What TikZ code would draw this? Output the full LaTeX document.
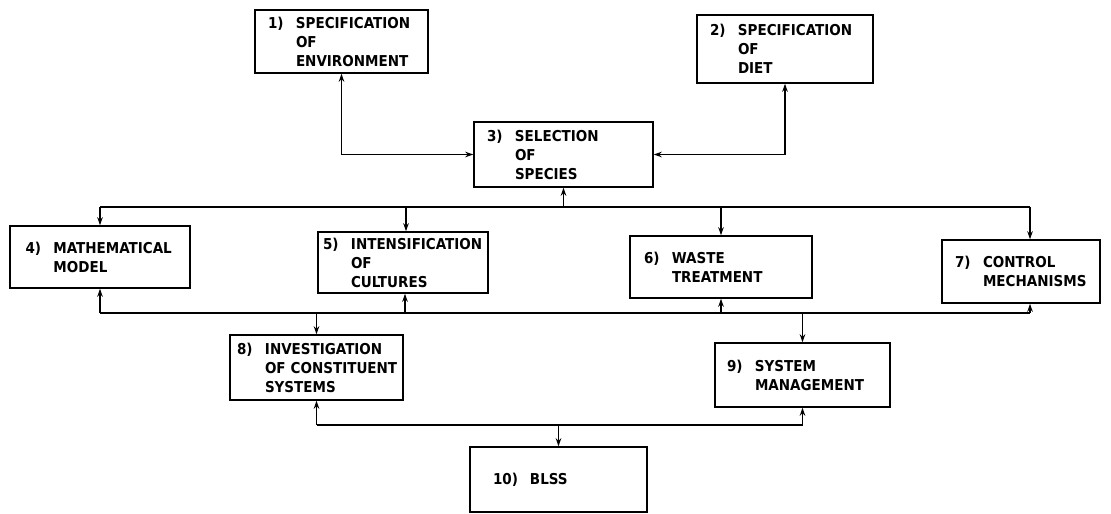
\documentclass[tikz,border=0pt]{standalone}
\usepackage{fontspec}
\setmainfont{DejaVu Sans Condensed}
\usetikzlibrary{arrows.meta}
% number column of a box label, and the indent of the lines below it
\newcommand{\nr}[1]{\makebox[28pt][l]{#1}}
\newcommand{\ind}{\hspace*{28pt}}
\begin{document}
\begin{tikzpicture}[x=1pt, y=-1pt,
  box/.style={draw, line width=1.5pt, align=left, inner ysep=0pt, font=\fontsize{15}{19}\selectfont\bfseries},
  link/.style={line width=1.4pt},
  >={Stealth[length=8pt, width=5.5pt]}]
\useasboundingbox (0,0) rectangle (1111,514);

\node (env) [box, minimum height=63pt, text width=147pt, inner xsep=13pt] at (341.5,41.5) {\nr{1)}SPECIFICATION\\\ind OF\\\ind ENVIRONMENT};
\node (diet) [box, minimum height=68pt, text width=150pt, inner xsep=13pt] at (785,49) {\nr{2)}SPECIFICATION\\\ind OF\\\ind DIET};
\node (sel) [box, minimum height=65pt, text width=153pt, inner xsep=13pt] at (563.5,154.5) {\nr{3)}SELECTION\\\ind OF\\\ind SPECIES};

\node (math) [box, minimum height=62pt, text width=149pt, inner xsep=15.5pt] at (100,257) {\nr{4)}MATHEMATICAL\\\ind MODEL};
\node (cult) [box, minimum height=61pt, text width=160pt, inner xsep=5pt] at (403,262.5) {\nr{5)}INTENSIFICATION\\\ind OF\\\ind CULTURES};
\node (waste) [box, minimum height=62pt, text width=154pt, inner xsep=14pt] at (721,267) {\nr{6)}WASTE\\\ind TREATMENT};
\node (ctrl) [box, minimum height=63pt, text width=132pt, inner xsep=13pt] at (1021,271.5) {\nr{7)}CONTROL\\\ind MECHANISMS};

\node (invest) [box, minimum height=65pt, text width=159pt, inner xsep=7pt] at (316.5,367.5) {\nr{8)}INVESTIGATION\\\ind\mbox{OF CONSTITUENT}\\\ind SYSTEMS};
\node (mgmt) [box, minimum height=64pt, text width=151pt, inner xsep=12pt] at (802.5,375) {\nr{9)}SYSTEM\\\ind MANAGEMENT};

\node (blss) [box, minimum height=65pt, text width=131pt, inner xsep=23pt] at (558.5,479.5) {\makebox[37pt][l]{10)}BLSS};

\coordinate (bus1) at (0,207);
\coordinate (bus2) at (0,313);
\coordinate (bus3) at (0,425);

% upper links
\draw [link, <->] (env) |- (sel);
\draw [link, <->] (diet) |- (sel);

% first bus
\draw [link] (math.north |- bus1) -- ([xshift=9pt]ctrl.north |- bus1);
\draw [link, ->] (sel.south |- bus1) -- (sel.south);
\draw [link, ->] (math.north |- bus1) -- (math.north);
\draw [link, ->] ([xshift=3pt]cult.north |- bus1) -- ([xshift=3pt]cult.north);
\draw [link, ->] (waste.north |- bus1) -- (waste.north);
\draw [link, ->] ([xshift=9pt]ctrl.north |- bus1) -- ([xshift=9pt]ctrl.north);

% second bus
\draw [link] (math.south |- bus2) -- ([xshift=9pt]ctrl.south |- bus2);
\draw [link, ->] (math.south |- bus2) -- (math.south);
\draw [link, ->] ([xshift=2pt]cult.south |- bus2) -- ([xshift=2pt]cult.south);
\draw [link, ->] (waste.south |- bus2) -- (waste.south);
\draw [link, ->] ([xshift=9pt]ctrl.south |- bus2) -- ([xshift=9pt]ctrl.south);
\draw [link, ->] (invest.north |- bus2) -- (invest.north);
\draw [link, ->] (mgmt.north |- bus2) -- (mgmt.north);

% third bus
\draw [link] (invest.south |- bus3) -- (mgmt.south |- bus3);
\draw [link, ->] (invest.south |- bus3) -- (invest.south);
\draw [link, ->] (mgmt.south |- bus3) -- (mgmt.south);
\draw [link, ->] (blss.north |- bus3) -- (blss.north);
\end{tikzpicture}
\end{document}
